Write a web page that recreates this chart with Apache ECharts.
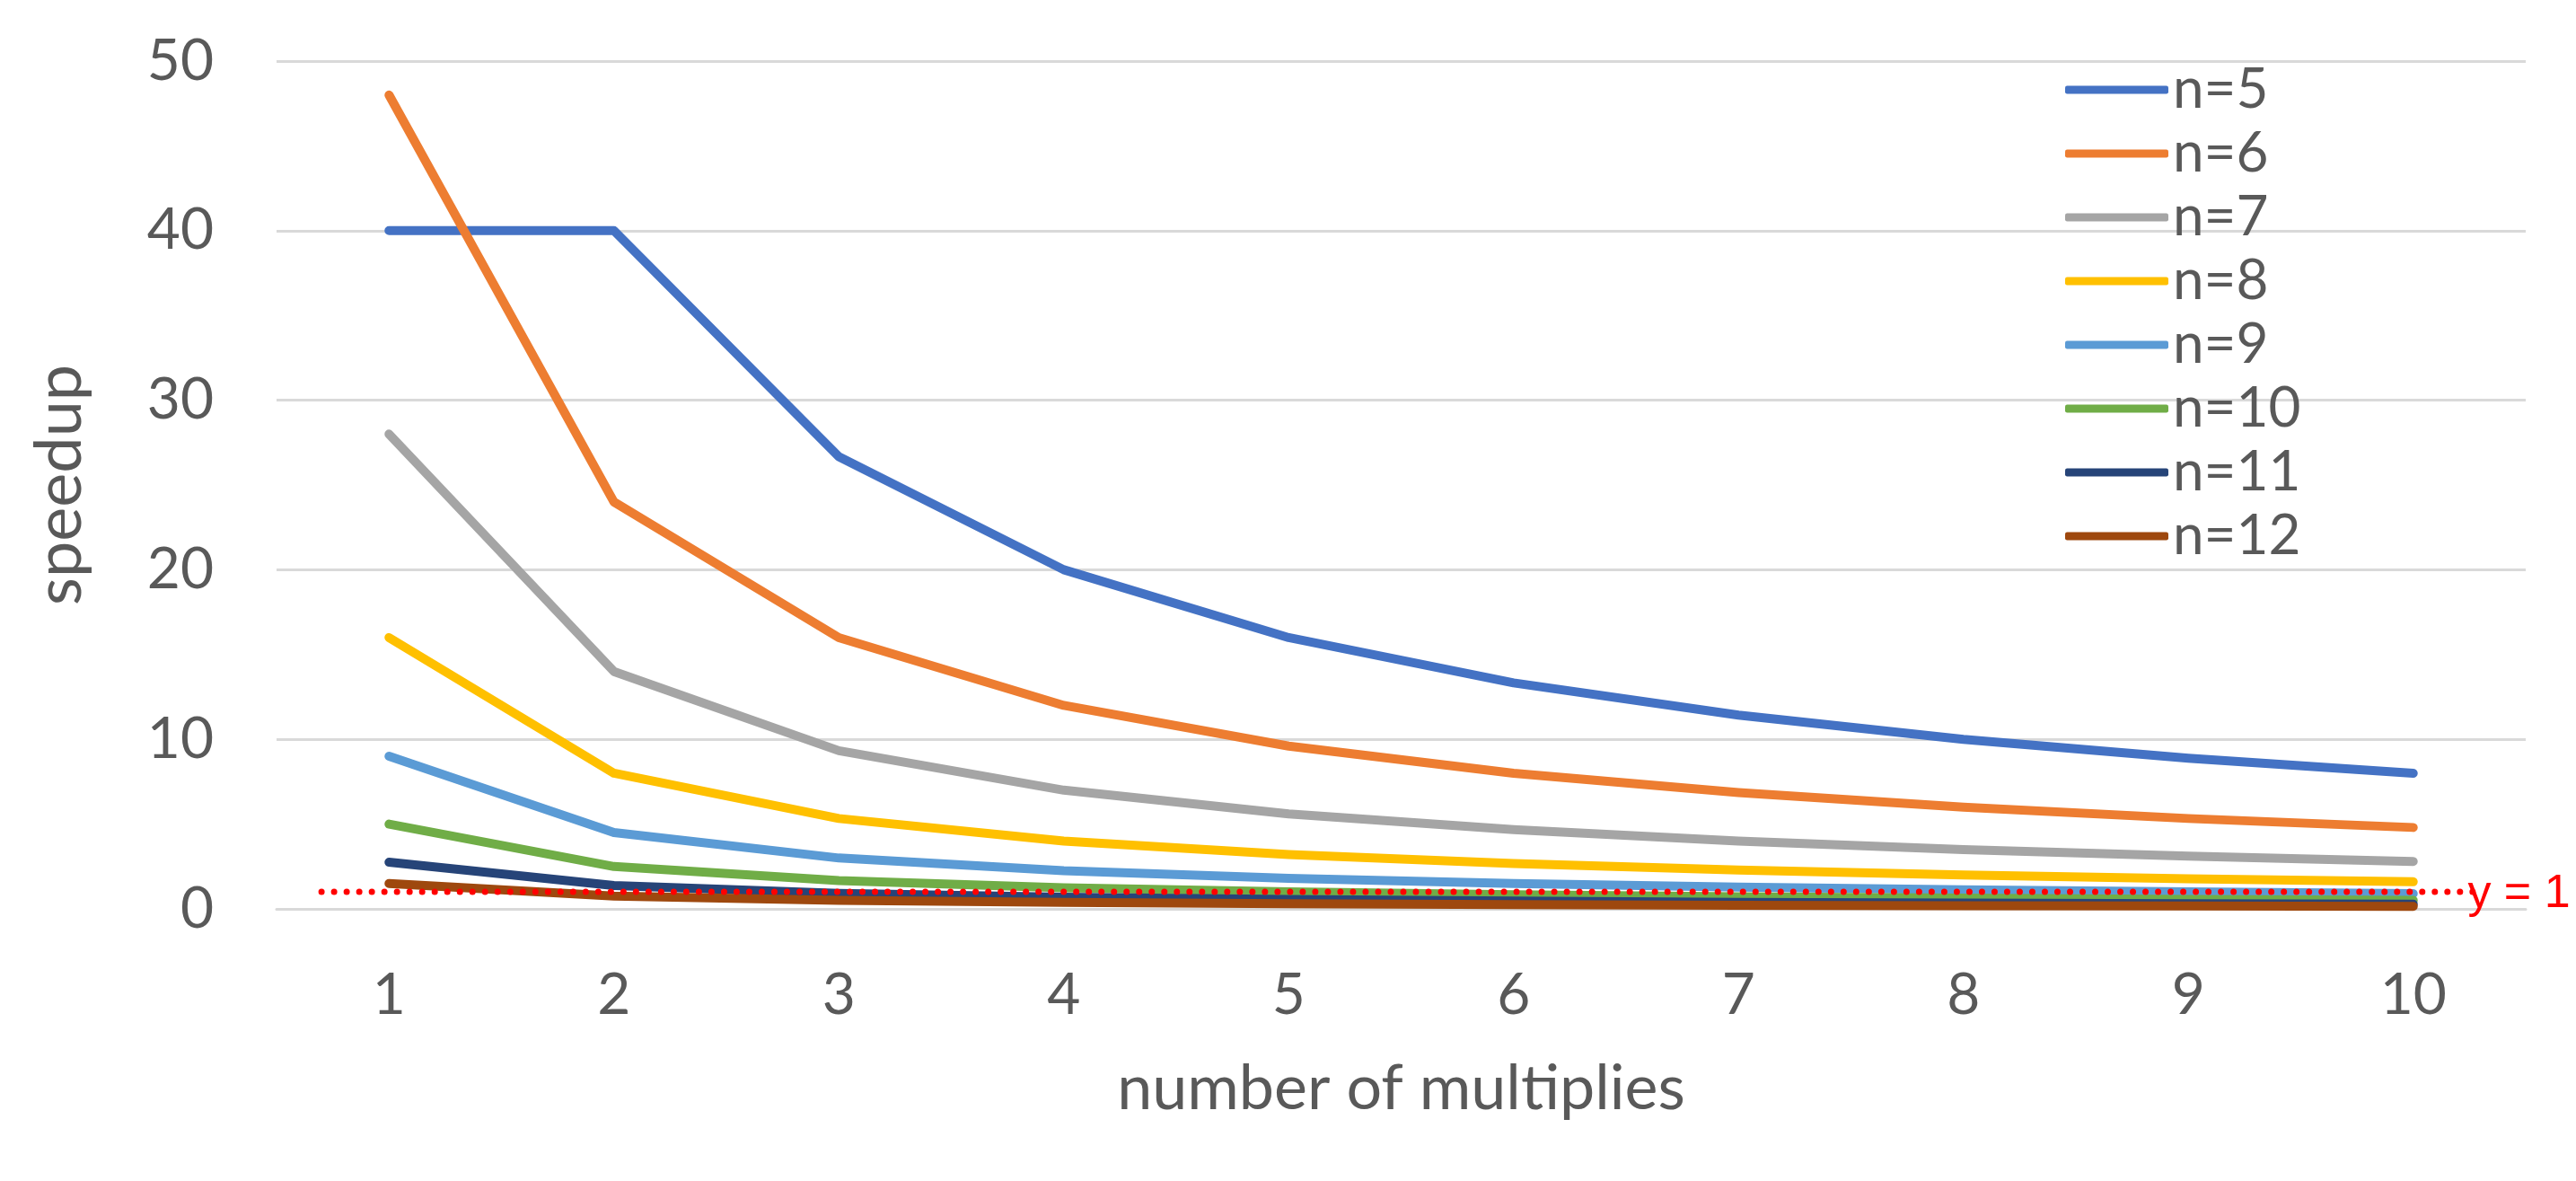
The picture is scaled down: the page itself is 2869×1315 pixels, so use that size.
<!DOCTYPE html>
<html>
<head>
<meta charset="utf-8">
<script src="https://cdn.jsdelivr.net/npm/echarts@6/dist/echarts.min.js"></script>
<style>
html,body{margin:0;padding:0;background:#fff;}
#chart{width:2869px;height:1315px;}
</style>
</head>
<body>
<div id="chart"></div>
<script>
const categories = ['1','2','3','4','5','6','7','8','9','10'];
const seriesNames = ['n=5','n=6','n=7','n=8','n=9','n=10','n=11','n=12'];
const n5  = [40, 40, 26.67, 20, 16, 13.33, 11.43, 10, 8.89, 8];
const n6  = [48, 24, 16, 12, 9.6, 8, 6.86, 6, 5.33, 4.8];
const n7  = [28, 14, 9.33, 7, 5.6, 4.67, 4, 3.5, 3.11, 2.8];
const n8  = [16, 8, 5.33, 4, 3.2, 2.67, 2.29, 2, 1.78, 1.6];
const n9  = [9, 4.5, 3, 2.25, 1.8, 1.5, 1.29, 1.13, 1, 0.9];
const n10 = [5, 2.5, 1.67, 1.25, 1, 0.83, 0.71, 0.63, 0.56, 0.5];
const n11 = [2.75, 1.38, 0.92, 0.69, 0.55, 0.46, 0.39, 0.34, 0.31, 0.28];
const n12 = [1.5, 0.75, 0.5, 0.38, 0.3, 0.25, 0.21, 0.19, 0.17, 0.15];
const seriesValues = [n5, n6, n7, n8, n9, n10, n11, n12];
const colors = ['#4472C4','#ED7D31','#A5A5A5','#FFC000','#5B9BD5','#70AD47','#264478','#9E480E'];
const refLineX = [0.2, 9.79];
const refLineY = 1;
const refLabel = 'y = 1';
const yTicks = {min: 0, max: 50, interval: 10};

const FONT = 'Lato';
const TXT = '#595959';

const chart = echarts.init(document.getElementById('chart'), null, {renderer: 'canvas'});

const lineSeries = seriesNames.map((name, i) => ({
  name: name,
  type: 'line',
  data: seriesValues[i],
  symbol: 'none',
  color: colors[i],
  lineStyle: {width: 10, color: colors[i], cap: 'round', join: 'round'},
  z: 2 + i,
  animation: false
}));

lineSeries.push({
  name: 'ref',
  type: 'line',
  xAxisIndex: 1,
  data: refLineX.map(x => [x, refLineY]),
  symbol: 'none',
  lineStyle: {width: 7, color: '#FF0000', type: [0.01, 14], cap: 'round'},
  z: 20,
  animation: false,
  endLabel: {
    show: true,
    formatter: refLabel,
    color: '#FF0000',
    fontFamily: 'Liberation Sans',
    fontSize: 52,
    offset: [-20, 3]
  }
});

chart.setOption({
  animation: false,
  backgroundColor: '#ffffff',
  grid: {left: 308, right: 56, top: 68, bottom: 303, containLabel: false},
  legend: {
    data: seriesNames,
    orient: 'vertical',
    left: 2295,
    top: 64,
    icon: 'roundRect',
    itemWidth: 115,
    itemHeight: 9,
    itemGap: 9,
    textStyle: {fontFamily: FONT, fontSize: 62, color: TXT, lineHeight: 60, padding: [0,0,0,0]}
  },
  xAxis: [{
    type: 'category',
    data: categories,
    boundaryGap: true,
    name: 'number of multiplies',
    nameLocation: 'middle',
    nameGap: 165,
    nameTextStyle: {fontFamily: FONT, fontSize: 70, color: TXT},
    axisLine: {show: true, lineStyle: {color: '#D9D9D9', width: 3}},
    axisTick: {show: false},
    axisLabel: {fontFamily: FONT, fontSize: 64, color: TXT, margin: 64}
  }, {
    type: 'value',
    min: 0,
    max: 10,
    show: false
  }],
  yAxis: {
    type: 'value',
    min: yTicks.min,
    max: yTicks.max,
    interval: yTicks.interval,
    name: 'speedup',
    nameLocation: 'middle',
    nameGap: 205,
    nameTextStyle: {fontFamily: FONT, fontSize: 72, color: TXT},
    axisLine: {show: false},
    axisTick: {show: false},
    axisLabel: {fontFamily: FONT, fontSize: 64, color: TXT, margin: 70},
    splitLine: {show: true, lineStyle: {color: '#D9D9D9', width: 3}}
  },
  series: lineSeries
});
</script>
</body>
</html>
